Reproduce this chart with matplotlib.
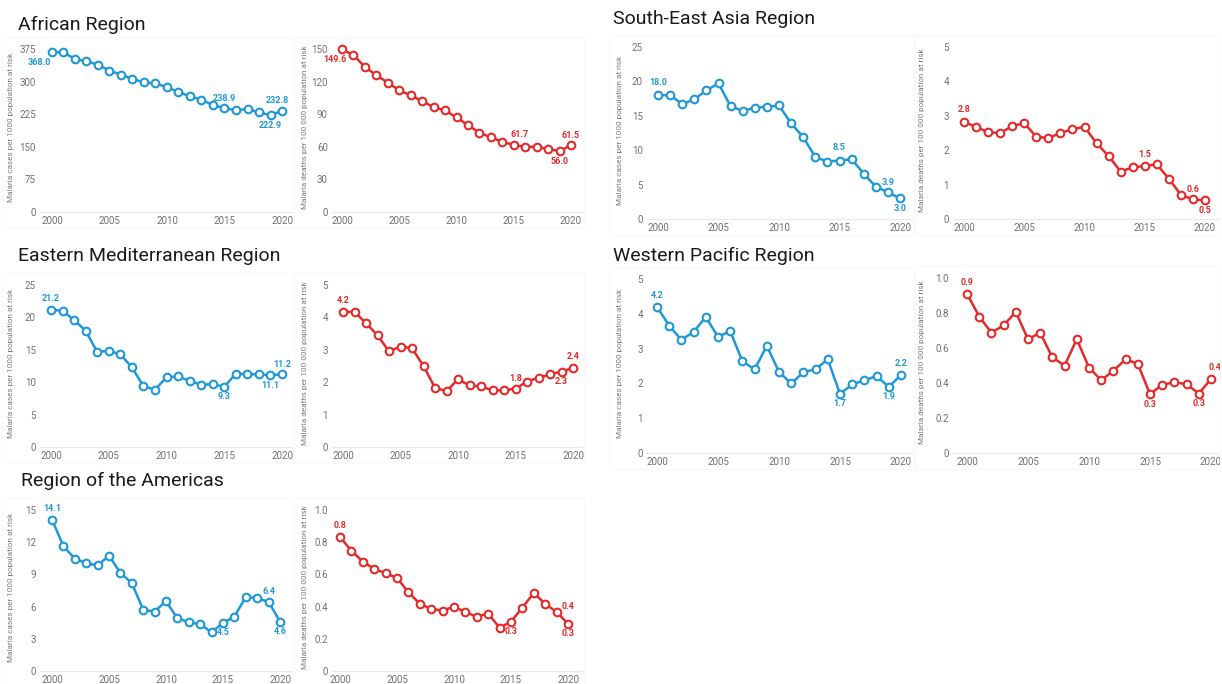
import matplotlib
matplotlib.use("Agg")
import matplotlib.pyplot as plt
from matplotlib.patches import Rectangle

plt.rcParams['font.family'] = ['Roboto', 'DejaVu Sans']

years = list(range(2000, 2021))

african_cases = [368.0, 367, 352, 346.5, 339, 325, 316, 306, 298, 296, 287,
                 276, 266, 258, 246, 238.9, 234, 237, 229, 222.9, 232.8]
african_deaths = [149.6, 144.5, 133.4, 126, 119, 112, 107.4, 102, 96.5, 93.5, 87,
                  80, 73, 68.7, 64.7, 61.7, 60, 60, 58, 56.0, 61.5]

sea_cases = [18.0, 18.0, 16.7, 17.4, 18.7, 19.7, 16.4, 15.7, 16.2, 16.3, 16.5,
             13.9, 11.9, 9.0, 8.35, 8.5, 8.7, 6.6, 4.7, 3.9, 3.0]
sea_deaths = [2.82, 2.68, 2.52, 2.5, 2.7, 2.79, 2.39, 2.35, 2.5, 2.61, 2.68,
              2.2, 1.83, 1.38, 1.5, 1.54, 1.59, 1.17, 0.7, 0.57, 0.54]

emr_cases = [21.2, 21.0, 19.6, 17.95, 14.66, 14.87, 14.3, 12.3, 9.4, 8.85, 10.75,
             10.9, 10.2, 9.6, 9.7, 9.3, 11.3, 11.25, 11.2, 11.1, 11.2]
emr_deaths = [4.17, 4.17, 3.82, 3.45, 2.95, 3.1, 3.05, 2.5, 1.83, 1.72, 2.09,
              1.9, 1.87, 1.75, 1.75, 1.8, 2.02, 2.14, 2.24, 2.33, 2.44]

wpr_cases = [4.2, 3.66, 3.25, 3.48, 3.91, 3.34, 3.5, 2.64, 2.4, 3.08, 2.33,
             2.0, 2.32, 2.41, 2.69, 1.7, 1.97, 2.09, 2.21, 1.9, 2.24]
wpr_deaths = [0.91, 0.78, 0.687, 0.73, 0.806, 0.65, 0.687, 0.546, 0.5, 0.65, 0.488,
              0.416, 0.47, 0.535, 0.51, 0.336, 0.39, 0.404, 0.393, 0.34, 0.423]

amr_cases = [14.1, 11.64, 10.46, 10.05, 9.83, 10.74, 9.15, 8.19, 5.7, 5.54, 6.5,
             4.92, 4.54, 4.36, 3.61, 4.48, 5.07, 6.9, 6.78, 6.44, 4.6]
amr_deaths = [0.832, 0.747, 0.68, 0.633, 0.608, 0.577, 0.49, 0.417, 0.386, 0.375, 0.4,
              0.365, 0.338, 0.357, 0.268, 0.307, 0.394, 0.485, 0.417, 0.367, 0.293]

BLUE = '#1f98d5'
RED = '#e42a2a'
W, H = 1222, 684

fig = plt.figure(figsize=(W / 100, H / 100), dpi=100)
fig.patch.set_facecolor('white')


def tick_text(t, decimals):
    if t == 0:
        return '0'
    return f'{t:.1f}' if decimals else f'{t:g}'


def panel(box, values, yticks, ylabel, color, labels, ylab_x):
    # box: axis left/right, y of zero, y of top tick, x of 2000 and 2020 (pixels)
    x0, x1, ybot, ytop, p0, p1 = box
    ax = fig.add_axes([x0 / W, 1 - ybot / H, (x1 - x0) / W, (ybot - ytop) / H])
    s = (p1 - p0) / 20
    ax.set_xlim(2000 - (p0 - x0) / s, 2020 + (x1 - p1) / s)
    ax.set_ylim(0, yticks[-1])
    ax.plot(years, values, color=color, lw=1.8, marker='o', ms=5.5,
            mfc='white', mec=color, mew=1.5, clip_on=False, zorder=3)
    for spine in ['top', 'right', 'left']:
        ax.spines[spine].set_visible(False)
    ax.spines['bottom'].set_color('#e8e8e8')
    ax.set_xticks([2000, 2005, 2010, 2015, 2020])
    decimals = any(t != int(t) for t in yticks)
    ax.set_yticks(yticks)
    ax.set_yticklabels([tick_text(t, decimals) for t in yticks])
    ax.tick_params(length=0, labelsize=7, labelcolor='#707070')
    ax.tick_params(axis='x', pad=3)
    ax.tick_params(axis='y', pad=3)
    ax.set_facecolor('none')
    fig.text(ylab_x / W, 1 - (ybot + ytop - 6) / 2 / H, ylabel, rotation=90,
             ha='center', va='center', fontsize=5.9, color='#7a7a7a')
    for yr, dx, dy in labels:
        v = values[years.index(yr)]
        ax.annotate(f'{v:.1f}', (yr, v), xytext=(dx, dy), textcoords='offset points',
                    ha='center', va='bottom' if dy > 0 else 'top', fontsize=6.5,
                    fontweight='bold', color=color, annotation_clip=False)
    # very faint frame around each panel
    fig.patches.append(Rectangle(((x0 - 38) / W, 1 - (ybot + 16) / H), (x1 - x0 + 40) / W,
                                 (ybot - ytop + 28) / H, transform=fig.transFigure,
                                 fill=False, ec='#f9f9f9', lw=0.8, zorder=0))
    return ax


cases_lab = 'Malaria cases per 1000 population at risk'
deaths_lab = 'Malaria deaths per 100 000 population at risk'

# left column
panel((40, 292, 212, 49, 52, 282), african_cases, [0, 75, 150, 225, 300, 375],
      cases_lab, BLUE, [(2000, -9, -4), (2015, 0, 4), (2019, 0, -4), (2020, -3, 4)], 11)
panel((332, 582, 212, 49, 342, 571), african_deaths, [0, 30, 60, 90, 120, 150],
      deaths_lab, RED, [(2000, -5, -4), (2015, 4, 4), (2019, 0, -4), (2020, 0, 4)], 305)

panel((40, 292, 447, 285, 51, 282), emr_cases, [0, 5, 10, 15, 20, 25],
      cases_lab, BLUE, [(2000, 0, 5), (2015, 0, -4), (2019, 0, -4), (2020, 0, 4)], 11)
panel((332, 582, 447, 285, 343, 573), emr_deaths, [0, 1, 2, 3, 4, 5],
      deaths_lab, RED, [(2000, 0, 5), (2015, 0, 4), (2019, 0, -4), (2020, 0, 5)], 305)

panel((40, 292, 671, 510, 52, 280), amr_cases, [0, 3, 6, 9, 12, 15],
      cases_lab, BLUE, [(2000, 0, 5), (2015, 0, -4), (2019, 0, 4), (2020, 0, -4)], 11)
panel((332, 582, 671, 510, 340, 568), amr_deaths, [0, 0.2, 0.4, 0.6, 0.8, 1.0],
      deaths_lab, RED, [(2000, 0, 5), (2015, 0, -4), (2019, 8, 0.5), (2020, 0, -4)], 305)

# right column
panel((647, 912, 219, 47, 658, 900), sea_cases, [0, 5, 10, 15, 20, 25],
      cases_lab, BLUE, [(2000, 0, 6), (2015, 0, 6), (2019, 0, 4), (2020, 0, -4)], 620)
panel((953, 1218, 219, 47, 964, 1205), sea_deaths, [0, 1, 2, 3, 4, 5],
      deaths_lab, RED, [(2000, 0, 6), (2015, 0, 5), (2019, 0, 4), (2020, 0, -4)], 922)

panel((647, 912, 453, 279, 657, 901), wpr_cases, [0, 1, 2, 3, 4, 5],
      cases_lab, BLUE, [(2000, 0, 5), (2015, 0, -4), (2019, 0, -4), (2020, 0, 5)], 620)
panel((953, 1218, 453, 278, 967, 1211), wpr_deaths, [0, 0.2, 0.4, 0.6, 0.8, 1.0],
      deaths_lab, RED, [(2000, 0, 5), (2015, 0, -4), (2019, 0, -4), (2020, 3, 5)], 922)

titles = [('African Region', 18, 25), ('Eastern Mediterranean Region', 18, 256),
          ('Region of the Americas', 21, 481), ('South-East Asia Region', 613, 19),
          ('Western Pacific Region', 613, 256)]
for t, x, y in titles:
    fig.text(x / W, 1 - y / H, t, ha='left', va='center', fontsize=14, color='#1a1a1a')

fig.savefig('out.png', dpi=100, facecolor='white')
